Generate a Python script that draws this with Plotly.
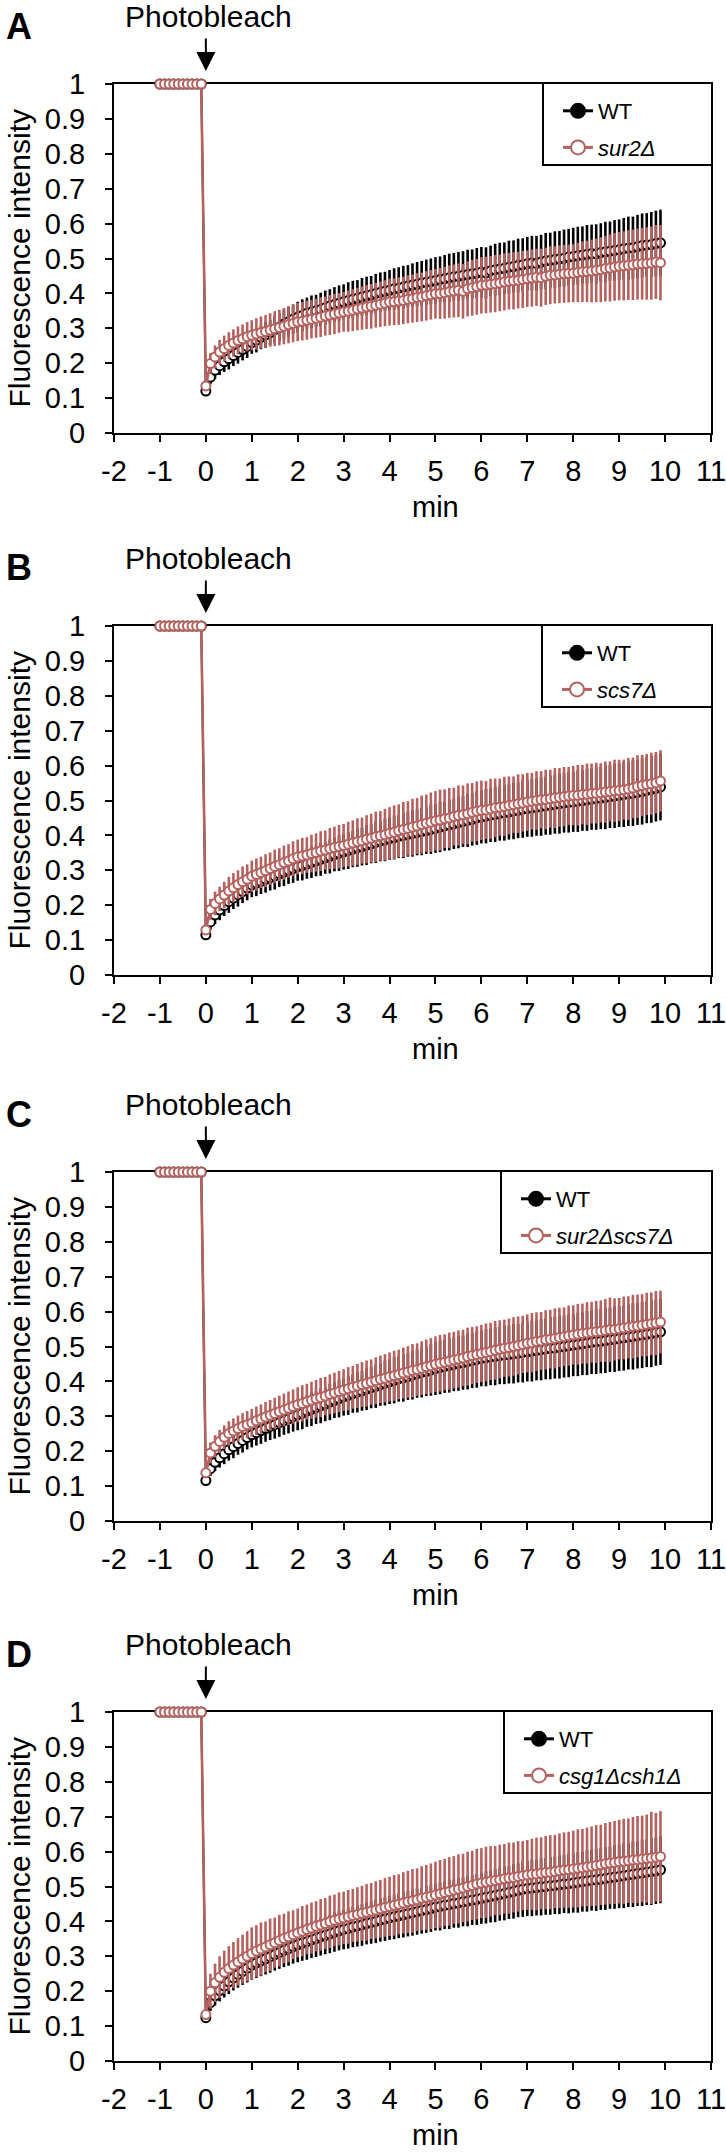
import plotly.graph_objects as go

# ---------------- data ----------------
PANEL_LABELS = ["A", "B", "C", "D"]
WT_NAME = "WT"
MUTANT_NAMES = ["sur2Δ", "scs7Δ", "sur2Δscs7Δ", "csg1Δcsh1Δ"]

X_TICK_VALS = [-2, -1, 0, 1, 2, 3, 4, 5, 6, 7, 8, 9, 10, 11]
X_TICK_TEXT = ["-2", "-1", "0", "1", "2", "3", "4", "5", "6", "7", "8", "9", "10", "11"]
Y_TICK_VALS = [0, 0.1, 0.2, 0.3, 0.4, 0.5, 0.6, 0.7, 0.8, 0.9, 1.0]
Y_TICK_TEXT = ["0", "0.1", "0.2", "0.3", "0.4", "0.5", "0.6", "0.7", "0.8", "0.9", "1"]

PRE_TIME = [-1.0, -0.9, -0.8, -0.7, -0.6, -0.5, -0.4, -0.3, -0.2, -0.1]
PRE_VALUE = [1.0, 1.0, 1.0, 1.0, 1.0, 1.0, 1.0, 1.0, 1.0, 1.0]
PRE_SD = [0.0, 0.0, 0.0, 0.0, 0.0, 0.0, 0.0, 0.0, 0.0, 0.0]

POST_TIME = [
    0.0, 0.1, 0.2, 0.3, 0.4, 0.5, 0.6, 0.7, 0.8, 0.9,
    1.0, 1.1, 1.2, 1.3, 1.4, 1.5, 1.6, 1.7, 1.8, 1.9,
    2.0, 2.1, 2.2, 2.3, 2.4, 2.5, 2.6, 2.7, 2.8, 2.9,
    3.0, 3.1, 3.2, 3.3, 3.4, 3.5, 3.6, 3.7, 3.8, 3.9,
    4.0, 4.1, 4.2, 4.3, 4.4, 4.5, 4.6, 4.7, 4.8, 4.9,
    5.0, 5.1, 5.2, 5.3, 5.4, 5.5, 5.6, 5.7, 5.8, 5.9,
    6.0, 6.1, 6.2, 6.3, 6.4, 6.5, 6.6, 6.7, 6.8, 6.9,
    7.0, 7.1, 7.2, 7.3, 7.4, 7.5, 7.6, 7.7, 7.8, 7.9,
    8.0, 8.1, 8.2, 8.3, 8.4, 8.5, 8.6, 8.7, 8.8, 8.9,
    9.0, 9.1, 9.2, 9.3, 9.4, 9.5, 9.6, 9.7, 9.8, 9.9,
]

# Panel A
WT_A = [
    0.120, 0.160, 0.180, 0.193, 0.204, 0.213, 0.222, 0.231, 0.239, 0.248,
    0.259, 0.266, 0.274, 0.281, 0.288, 0.296, 0.303, 0.312, 0.319, 0.326,
    0.332, 0.337, 0.343, 0.347, 0.350, 0.354, 0.359, 0.364, 0.368, 0.372,
    0.376, 0.380, 0.383, 0.386, 0.390, 0.393, 0.396, 0.400, 0.403, 0.406,
    0.409, 0.413, 0.415, 0.418, 0.421, 0.424, 0.426, 0.430, 0.432, 0.434,
    0.437, 0.440, 0.442, 0.445, 0.448, 0.449, 0.452, 0.454, 0.456, 0.458,
    0.461, 0.459, 0.465, 0.468, 0.470, 0.472, 0.475, 0.477, 0.480, 0.482,
    0.485, 0.487, 0.486, 0.490, 0.493, 0.495, 0.497, 0.499, 0.501, 0.504,
    0.506, 0.508, 0.510, 0.512, 0.514, 0.513, 0.517, 0.519, 0.521, 0.523,
    0.525, 0.528, 0.530, 0.531, 0.534, 0.537, 0.539, 0.540, 0.543, 0.545,
]
WT_A_SD = [
    0.010, 0.020, 0.025, 0.027, 0.029, 0.031, 0.030, 0.032, 0.031, 0.033,
    0.032, 0.035, 0.034, 0.037, 0.036, 0.039, 0.040, 0.041, 0.043, 0.042,
    0.044, 0.046, 0.045, 0.047, 0.046, 0.048, 0.049, 0.048, 0.050, 0.051,
    0.050, 0.052, 0.053, 0.052, 0.054, 0.055, 0.054, 0.056, 0.057, 0.056,
    0.058, 0.059, 0.060, 0.061, 0.060, 0.062, 0.064, 0.063, 0.065, 0.066,
    0.067, 0.066, 0.068, 0.069, 0.068, 0.070, 0.069, 0.071, 0.070, 0.072,
    0.072, 0.073, 0.072, 0.074, 0.075, 0.074, 0.076, 0.075, 0.077, 0.076,
    0.077, 0.078, 0.079, 0.078, 0.080, 0.079, 0.081, 0.080, 0.082, 0.081,
    0.082, 0.083, 0.082, 0.084, 0.083, 0.085, 0.084, 0.086, 0.085, 0.087,
    0.087, 0.088, 0.090, 0.089, 0.091, 0.092, 0.091, 0.093, 0.094, 0.095,
]
SUR2 = [
    0.135, 0.199, 0.218, 0.232, 0.242, 0.251, 0.258, 0.265, 0.270, 0.276,
    0.280, 0.284, 0.288, 0.291, 0.295, 0.299, 0.302, 0.306, 0.310, 0.314,
    0.318, 0.320, 0.323, 0.326, 0.329, 0.332, 0.335, 0.338, 0.341, 0.344,
    0.347, 0.349, 0.352, 0.355, 0.358, 0.361, 0.363, 0.366, 0.369, 0.372,
    0.375, 0.376, 0.378, 0.380, 0.383, 0.385, 0.388, 0.390, 0.393, 0.396,
    0.399, 0.400, 0.402, 0.405, 0.407, 0.409, 0.406, 0.413, 0.416, 0.419,
    0.423, 0.424, 0.426, 0.428, 0.430, 0.433, 0.435, 0.436, 0.438, 0.440,
    0.442, 0.444, 0.446, 0.445, 0.449, 0.452, 0.453, 0.455, 0.456, 0.457,
    0.458, 0.460, 0.462, 0.463, 0.464, 0.466, 0.468, 0.471, 0.473, 0.476,
    0.478, 0.479, 0.481, 0.482, 0.484, 0.485, 0.486, 0.487, 0.490, 0.488,
]
SUR2_SD = [
    0.010, 0.030, 0.033, 0.035, 0.037, 0.038, 0.039, 0.040, 0.041, 0.042,
    0.043, 0.045, 0.046, 0.047, 0.048, 0.050, 0.051, 0.052, 0.053, 0.054,
    0.055, 0.055, 0.056, 0.055, 0.056, 0.057, 0.056, 0.057, 0.058, 0.057,
    0.057, 0.059, 0.060, 0.061, 0.062, 0.063, 0.064, 0.064, 0.065, 0.066,
    0.067, 0.067, 0.068, 0.068, 0.069, 0.069, 0.070, 0.070, 0.071, 0.071,
    0.071, 0.073, 0.074, 0.075, 0.076, 0.077, 0.078, 0.079, 0.080, 0.080,
    0.081, 0.081, 0.081, 0.082, 0.081, 0.082, 0.081, 0.082, 0.081, 0.082,
    0.081, 0.082, 0.082, 0.083, 0.082, 0.083, 0.082, 0.083, 0.083, 0.083,
    0.083, 0.085, 0.087, 0.088, 0.090, 0.091, 0.093, 0.094, 0.096, 0.097,
    0.098, 0.099, 0.100, 0.101, 0.102, 0.103, 0.104, 0.105, 0.106, 0.108,
]

# Panel B
WT_B = [
    0.115, 0.152, 0.172, 0.186, 0.199, 0.210, 0.220, 0.230, 0.239, 0.249,
    0.258, 0.263, 0.268, 0.274, 0.279, 0.284, 0.290, 0.295, 0.300, 0.305,
    0.310, 0.314, 0.318, 0.323, 0.327, 0.331, 0.336, 0.340, 0.345, 0.349,
    0.353, 0.357, 0.361, 0.365, 0.368, 0.372, 0.376, 0.380, 0.384, 0.387,
    0.391, 0.394, 0.397, 0.400, 0.403, 0.406, 0.409, 0.411, 0.414, 0.417,
    0.420, 0.424, 0.427, 0.430, 0.433, 0.437, 0.440, 0.443, 0.446, 0.450,
    0.453, 0.455, 0.458, 0.460, 0.463, 0.465, 0.467, 0.470, 0.472, 0.475,
    0.477, 0.479, 0.481, 0.483, 0.485, 0.487, 0.489, 0.491, 0.493, 0.495,
    0.496, 0.498, 0.500, 0.502, 0.504, 0.506, 0.507, 0.509, 0.511, 0.513,
    0.515, 0.517, 0.519, 0.521, 0.523, 0.526, 0.529, 0.532, 0.535, 0.539,
]
WT_B_SD = [
    0.010, 0.022, 0.026, 0.029, 0.030, 0.032, 0.031, 0.034, 0.033, 0.035,
    0.035, 0.037, 0.036, 0.038, 0.037, 0.039, 0.038, 0.040, 0.039, 0.041,
    0.040, 0.043, 0.042, 0.045, 0.044, 0.047, 0.046, 0.049, 0.048, 0.051,
    0.051, 0.053, 0.052, 0.055, 0.054, 0.057, 0.056, 0.059, 0.058, 0.061,
    0.061, 0.063, 0.062, 0.065, 0.064, 0.067, 0.066, 0.068, 0.067, 0.070,
    0.070, 0.072, 0.071, 0.073, 0.072, 0.074, 0.073, 0.076, 0.075, 0.077,
    0.076, 0.078, 0.077, 0.079, 0.078, 0.080, 0.079, 0.081, 0.080, 0.082,
    0.081, 0.083, 0.082, 0.084, 0.083, 0.085, 0.084, 0.086, 0.085, 0.087,
    0.086, 0.088, 0.087, 0.089, 0.088, 0.090, 0.089, 0.091, 0.090, 0.092,
    0.091, 0.093, 0.092, 0.094, 0.093, 0.095, 0.094, 0.096, 0.095, 0.096,
]
SCS7 = [
    0.129, 0.188, 0.205, 0.218, 0.229, 0.241, 0.250, 0.259, 0.267, 0.274,
    0.283, 0.288, 0.294, 0.299, 0.305, 0.311, 0.316, 0.322, 0.327, 0.333,
    0.338, 0.341, 0.344, 0.348, 0.351, 0.355, 0.358, 0.362, 0.365, 0.368,
    0.371, 0.375, 0.378, 0.382, 0.385, 0.389, 0.392, 0.396, 0.399, 0.402,
    0.406, 0.409, 0.413, 0.417, 0.420, 0.424, 0.427, 0.431, 0.435, 0.438,
    0.442, 0.444, 0.448, 0.450, 0.454, 0.457, 0.459, 0.462, 0.466, 0.469,
    0.472, 0.473, 0.476, 0.479, 0.481, 0.483, 0.486, 0.488, 0.491, 0.493,
    0.496, 0.498, 0.500, 0.502, 0.503, 0.505, 0.507, 0.509, 0.511, 0.513,
    0.514, 0.515, 0.517, 0.518, 0.520, 0.521, 0.522, 0.524, 0.526, 0.528,
    0.529, 0.531, 0.533, 0.536, 0.540, 0.543, 0.546, 0.548, 0.551, 0.556,
]
SCS7_SD = [
    0.010, 0.030, 0.034, 0.035, 0.038, 0.040, 0.042, 0.041, 0.044, 0.043,
    0.045, 0.046, 0.045, 0.047, 0.046, 0.048, 0.047, 0.049, 0.048, 0.050,
    0.050, 0.052, 0.051, 0.054, 0.055, 0.057, 0.056, 0.059, 0.060, 0.062,
    0.062, 0.064, 0.065, 0.067, 0.066, 0.069, 0.070, 0.072, 0.071, 0.074,
    0.075, 0.077, 0.076, 0.079, 0.078, 0.081, 0.080, 0.083, 0.082, 0.085,
    0.085, 0.087, 0.084, 0.086, 0.083, 0.086, 0.084, 0.087, 0.084, 0.086,
    0.085, 0.083, 0.086, 0.084, 0.082, 0.085, 0.083, 0.081, 0.084, 0.082,
    0.083, 0.081, 0.084, 0.082, 0.085, 0.083, 0.086, 0.084, 0.085, 0.083,
    0.085, 0.087, 0.085, 0.088, 0.086, 0.087, 0.085, 0.088, 0.086, 0.089,
    0.088, 0.086, 0.089, 0.087, 0.090, 0.088, 0.087, 0.089, 0.088, 0.088,
]

# Panel C
WT_C = [
    0.116, 0.150, 0.168, 0.181, 0.193, 0.204, 0.213, 0.222, 0.231, 0.239,
    0.247, 0.253, 0.259, 0.265, 0.271, 0.276, 0.282, 0.288, 0.293, 0.299,
    0.304, 0.309, 0.315, 0.320, 0.325, 0.330, 0.335, 0.341, 0.346, 0.351,
    0.356, 0.360, 0.365, 0.369, 0.373, 0.378, 0.382, 0.386, 0.391, 0.395,
    0.399, 0.403, 0.407, 0.410, 0.414, 0.418, 0.422, 0.426, 0.429, 0.433,
    0.437, 0.440, 0.443, 0.446, 0.449, 0.452, 0.454, 0.457, 0.460, 0.463,
    0.466, 0.468, 0.470, 0.472, 0.474, 0.476, 0.477, 0.479, 0.481, 0.483,
    0.485, 0.487, 0.489, 0.491, 0.493, 0.495, 0.496, 0.498, 0.500, 0.502,
    0.504, 0.506, 0.508, 0.510, 0.512, 0.514, 0.515, 0.517, 0.519, 0.521,
    0.523, 0.525, 0.527, 0.529, 0.531, 0.533, 0.535, 0.537, 0.540, 0.542,
]
WT_C_SD = [
    0.010, 0.021, 0.025, 0.028, 0.030, 0.031, 0.033, 0.032, 0.035, 0.034,
    0.036, 0.037, 0.038, 0.038, 0.039, 0.040, 0.041, 0.041, 0.042, 0.043,
    0.044, 0.046, 0.045, 0.048, 0.047, 0.050, 0.049, 0.052, 0.051, 0.054,
    0.054, 0.056, 0.055, 0.058, 0.057, 0.060, 0.059, 0.062, 0.061, 0.064,
    0.064, 0.066, 0.065, 0.068, 0.067, 0.070, 0.069, 0.072, 0.071, 0.074,
    0.076, 0.077, 0.076, 0.078, 0.077, 0.079, 0.078, 0.080, 0.079, 0.081,
    0.080, 0.082, 0.081, 0.083, 0.082, 0.084, 0.083, 0.085, 0.084, 0.086,
    0.085, 0.087, 0.086, 0.088, 0.087, 0.089, 0.088, 0.090, 0.089, 0.090,
    0.089, 0.091, 0.090, 0.092, 0.091, 0.093, 0.092, 0.093, 0.092, 0.094,
    0.093, 0.094, 0.093, 0.095, 0.094, 0.095, 0.094, 0.096, 0.095, 0.095,
]
SUR2_SCS7 = [
    0.138, 0.195, 0.214, 0.228, 0.240, 0.251, 0.258, 0.265, 0.271, 0.276,
    0.281, 0.287, 0.292, 0.298, 0.303, 0.308, 0.313, 0.318, 0.323, 0.328,
    0.333, 0.337, 0.342, 0.346, 0.350, 0.354, 0.358, 0.363, 0.367, 0.371,
    0.375, 0.379, 0.383, 0.387, 0.391, 0.394, 0.398, 0.402, 0.406, 0.409,
    0.413, 0.416, 0.420, 0.424, 0.427, 0.431, 0.434, 0.438, 0.442, 0.445,
    0.449, 0.452, 0.455, 0.458, 0.461, 0.464, 0.467, 0.471, 0.474, 0.477,
    0.480, 0.483, 0.486, 0.489, 0.492, 0.495, 0.497, 0.500, 0.503, 0.506,
    0.509, 0.511, 0.514, 0.516, 0.519, 0.521, 0.523, 0.526, 0.528, 0.531,
    0.533, 0.535, 0.537, 0.539, 0.541, 0.542, 0.544, 0.546, 0.548, 0.549,
    0.551, 0.553, 0.555, 0.557, 0.559, 0.561, 0.563, 0.565, 0.567, 0.570,
]
SUR2_SCS7_SD = [
    0.010, 0.030, 0.032, 0.033, 0.034, 0.035, 0.036, 0.037, 0.038, 0.039,
    0.040, 0.041, 0.042, 0.043, 0.044, 0.045, 0.046, 0.047, 0.048, 0.049,
    0.050, 0.052, 0.051, 0.053, 0.054, 0.056, 0.055, 0.057, 0.058, 0.059,
    0.060, 0.062, 0.061, 0.063, 0.064, 0.066, 0.065, 0.067, 0.068, 0.069,
    0.070, 0.072, 0.071, 0.073, 0.074, 0.076, 0.075, 0.077, 0.078, 0.079,
    0.080, 0.081, 0.080, 0.082, 0.081, 0.082, 0.081, 0.083, 0.082, 0.081,
    0.082, 0.083, 0.082, 0.084, 0.083, 0.082, 0.083, 0.084, 0.083, 0.082,
    0.083, 0.085, 0.084, 0.083, 0.085, 0.084, 0.086, 0.085, 0.084, 0.086,
    0.085, 0.087, 0.086, 0.088, 0.087, 0.089, 0.088, 0.090, 0.092, 0.089,
    0.088, 0.090, 0.089, 0.091, 0.090, 0.089, 0.091, 0.090, 0.092, 0.090,
]

# Panel D
WT_D = [
    0.124, 0.167, 0.187, 0.202, 0.215, 0.227, 0.238, 0.248, 0.257, 0.266,
    0.275, 0.281, 0.287, 0.293, 0.299, 0.305, 0.311, 0.317, 0.322, 0.328,
    0.333, 0.338, 0.342, 0.347, 0.351, 0.356, 0.360, 0.364, 0.369, 0.373,
    0.377, 0.380, 0.384, 0.387, 0.390, 0.394, 0.397, 0.400, 0.404, 0.407,
    0.410, 0.413, 0.416, 0.419, 0.422, 0.425, 0.428, 0.431, 0.434, 0.437,
    0.441, 0.443, 0.446, 0.448, 0.451, 0.453, 0.456, 0.458, 0.461, 0.463,
    0.466, 0.469, 0.471, 0.474, 0.477, 0.480, 0.483, 0.486, 0.489, 0.492,
    0.494, 0.496, 0.497, 0.499, 0.500, 0.502, 0.503, 0.505, 0.507, 0.508,
    0.510, 0.512, 0.514, 0.516, 0.518, 0.519, 0.521, 0.523, 0.525, 0.527,
    0.529, 0.531, 0.533, 0.535, 0.537, 0.539, 0.541, 0.543, 0.545, 0.548,
]
WT_D_SD = [
    0.012, 0.024, 0.028, 0.031, 0.033, 0.035, 0.036, 0.038, 0.039, 0.041,
    0.042, 0.043, 0.044, 0.045, 0.046, 0.046, 0.047, 0.048, 0.049, 0.049,
    0.050, 0.051, 0.052, 0.052, 0.053, 0.054, 0.054, 0.055, 0.056, 0.056,
    0.057, 0.058, 0.058, 0.059, 0.060, 0.060, 0.061, 0.062, 0.062, 0.063,
    0.063, 0.064, 0.064, 0.065, 0.065, 0.066, 0.066, 0.066, 0.067, 0.067,
    0.067, 0.069, 0.068, 0.070, 0.069, 0.071, 0.070, 0.072, 0.071, 0.073,
    0.073, 0.075, 0.074, 0.076, 0.075, 0.077, 0.076, 0.078, 0.077, 0.079,
    0.079, 0.081, 0.080, 0.082, 0.081, 0.083, 0.082, 0.084, 0.083, 0.085,
    0.085, 0.087, 0.086, 0.088, 0.087, 0.089, 0.088, 0.090, 0.089, 0.091,
    0.091, 0.093, 0.092, 0.094, 0.093, 0.095, 0.094, 0.096, 0.095, 0.096,
]
CSG1_CSH1 = [
    0.133, 0.200, 0.224, 0.240, 0.254, 0.265, 0.275, 0.284, 0.292, 0.300,
    0.308, 0.315, 0.321, 0.327, 0.333, 0.339, 0.345, 0.351, 0.356, 0.362,
    0.367, 0.372, 0.377, 0.381, 0.386, 0.390, 0.394, 0.399, 0.403, 0.407,
    0.410, 0.413, 0.417, 0.420, 0.423, 0.426, 0.430, 0.433, 0.436, 0.440,
    0.443, 0.446, 0.449, 0.453, 0.456, 0.459, 0.462, 0.466, 0.469, 0.472,
    0.476, 0.479, 0.483, 0.486, 0.490, 0.493, 0.496, 0.500, 0.503, 0.507,
    0.510, 0.512, 0.515, 0.517, 0.519, 0.522, 0.524, 0.526, 0.529, 0.531,
    0.533, 0.535, 0.536, 0.538, 0.540, 0.541, 0.543, 0.545, 0.547, 0.548,
    0.550, 0.552, 0.554, 0.556, 0.558, 0.560, 0.562, 0.565, 0.567, 0.569,
    0.571, 0.572, 0.574, 0.576, 0.577, 0.579, 0.580, 0.582, 0.584, 0.586,
]
CSG1_CSH1_SD = [
    0.010, 0.050, 0.055, 0.060, 0.062, 0.064, 0.066, 0.068, 0.070, 0.072,
    0.075, 0.074, 0.076, 0.073, 0.075, 0.072, 0.074, 0.071, 0.073, 0.070,
    0.070, 0.072, 0.071, 0.073, 0.072, 0.074, 0.073, 0.075, 0.074, 0.076,
    0.075, 0.077, 0.076, 0.078, 0.079, 0.081, 0.080, 0.082, 0.083, 0.084,
    0.085, 0.087, 0.086, 0.088, 0.089, 0.091, 0.090, 0.092, 0.093, 0.094,
    0.095, 0.097, 0.096, 0.098, 0.097, 0.099, 0.098, 0.100, 0.099, 0.101,
    0.100, 0.102, 0.101, 0.099, 0.101, 0.100, 0.102, 0.100, 0.101, 0.099,
    0.100, 0.102, 0.104, 0.103, 0.105, 0.106, 0.105, 0.107, 0.108, 0.109,
    0.110, 0.112, 0.111, 0.113, 0.114, 0.116, 0.115, 0.117, 0.118, 0.119,
    0.120, 0.122, 0.121, 0.123, 0.125, 0.124, 0.126, 0.132, 0.127, 0.130,
]

WT_MEANS = [WT_A, WT_B, WT_C, WT_D]
WT_SDS = [WT_A_SD, WT_B_SD, WT_C_SD, WT_D_SD]
MUT_MEANS = [SUR2, SCS7, SUR2_SCS7, CSG1_CSH1]
MUT_SDS = [SUR2_SD, SCS7_SD, SUR2_SCS7_SD, CSG1_CSH1_SD]

# ---------------- layout / styling ----------------
W, H = 726, 2156
FONT = "Liberation Sans, Arial, Helvetica, sans-serif"
RED = "#B5615E"
BLACK = "#000000"

PLOT_LEFT, PLOT_RIGHT = 114, 711
PLOT_TOPS = [84, 626, 1172, 1712]
PLOT_H = 349
LEGEND_LEFTS = [543, 542, 501, 504]
LEGEND_RIGHT = 712
LEGEND_H = 82


def px_x(p):
    return p / W


def px_y(p):
    return 1 - p / H


fig = go.Figure()
layout = dict(
    width=W, height=H, autosize=False,
    margin=dict(l=0, r=0, t=0, b=0, pad=0),
    paper_bgcolor="white", plot_bgcolor="white",
    font=dict(family=FONT, color="black", size=29),
    showlegend=True,
    annotations=[], shapes=[],
)

x_all = PRE_TIME + POST_TIME

for i in range(4):
    n = "" if i == 0 else str(i + 1)
    xa, ya = "x" + n, "y" + n
    top = PLOT_TOPS[i]
    bottom = top + PLOT_H
    leg = "legend" if i == 0 else "legend" + str(i + 1)

    wt_y = PRE_VALUE + WT_MEANS[i]
    wt_e = PRE_SD + WT_SDS[i]
    mu_y = PRE_VALUE + MUT_MEANS[i]
    mu_e = PRE_SD + MUT_SDS[i]

    # WT error bars
    fig.add_trace(go.Scatter(
        x=x_all, y=wt_y, mode="markers", xaxis=xa, yaxis=ya,
        marker=dict(size=1, color="rgba(0,0,0,0)"),
        error_y=dict(type="data", array=wt_e, visible=True, color=BLACK, thickness=2.6, width=0),
        showlegend=False, hoverinfo="skip", cliponaxis=False))
    # WT line + markers
    fig.add_trace(go.Scatter(
        x=x_all, y=wt_y, mode="lines+markers", xaxis=xa, yaxis=ya,
        line=dict(color=BLACK, width=2),
        marker=dict(symbol="circle", size=9, color="white", line=dict(color=BLACK, width=2)),
        showlegend=False, cliponaxis=False))
    # mutant error bars
    fig.add_trace(go.Scatter(
        x=x_all, y=mu_y, mode="markers", xaxis=xa, yaxis=ya,
        marker=dict(size=1, color="rgba(0,0,0,0)"),
        error_y=dict(type="data", array=mu_e, visible=True, color=RED, thickness=2.6, width=0),
        showlegend=False, hoverinfo="skip", cliponaxis=False))
    # mutant line + markers
    fig.add_trace(go.Scatter(
        x=x_all, y=mu_y, mode="lines+markers", xaxis=xa, yaxis=ya,
        line=dict(color=RED, width=2.6),
        marker=dict(symbol="circle", size=9, color="white", line=dict(color=RED, width=2)),
        showlegend=False, cliponaxis=False))
    # legend entries
    fig.add_trace(go.Scatter(
        x=[None], y=[None], mode="lines+markers", xaxis=xa, yaxis=ya,
        name=WT_NAME, legend=leg, legendgroup="wt" + n,
        line=dict(color=BLACK, width=3),
        marker=dict(symbol="circle", size=14, color=BLACK, line=dict(color=BLACK, width=2))))
    fig.add_trace(go.Scatter(
        x=[None], y=[None], mode="lines+markers", xaxis=xa, yaxis=ya,
        name="<i>" + MUTANT_NAMES[i] + "</i>", legend=leg, legendgroup="mu" + n,
        line=dict(color=RED, width=3),
        marker=dict(symbol="circle", size=14, color="white", line=dict(color=RED, width=2))))

    axis_common = dict(
        showline=True, linecolor=BLACK, linewidth=2, mirror=True,
        ticks="outside", ticklen=7, tickwidth=2, tickcolor=BLACK,
        showgrid=False, zeroline=False, layer="below traces",
        ticklabeloverflow="allow", automargin=False,
        tickfont=dict(family=FONT, size=29, color="black"),
    )
    layout["xaxis" + n] = dict(
        axis_common, domain=[px_x(PLOT_LEFT), px_x(PLOT_RIGHT)], range=[-2, 11],
        tickmode="array", tickvals=X_TICK_VALS, ticktext=X_TICK_TEXT,
        anchor=ya, ticklabelstandoff=4)
    layout["yaxis" + n] = dict(
        axis_common, domain=[px_y(bottom), px_y(top)], range=[0, 1],
        tickmode="array", tickvals=Y_TICK_VALS, ticktext=Y_TICK_TEXT,
        anchor=xa, ticklabelstandoff=14)

    # legend box + legend
    layout["shapes"].append(dict(
        type="rect", xref="paper", yref="paper",
        x0=px_x(LEGEND_LEFTS[i]), x1=px_x(LEGEND_RIGHT),
        y0=px_y(top - 1 + LEGEND_H), y1=px_y(top - 1),
        line=dict(color=BLACK, width=2), fillcolor="white", layer="above"))
    layout[leg] = dict(
        x=px_x(LEGEND_LEFTS[i] + 15), xanchor="left",
        y=px_y(top + 6), yanchor="top",
        bgcolor="rgba(0,0,0,0)", borderwidth=0,
        font=dict(family=FONT, size=22, color="black"),
        tracegroupgap=5, traceorder="grouped")

    # panel letter
    layout["annotations"].append(dict(
        text="<b>" + PANEL_LABELS[i] + "</b>", xref="paper", yref="paper",
        x=px_x(4), y=px_y(top - 58), xanchor="left", yanchor="middle",
        showarrow=False, font=dict(family=FONT, size=36, color="black")))
    # Photobleach label
    layout["annotations"].append(dict(
        text="Photobleach", xref="paper", yref="paper",
        x=px_x(208), y=px_y(top - 68), xanchor="center", yanchor="middle",
        showarrow=False, font=dict(family=FONT, size=30, color="black")))
    # arrow
    layout["annotations"].append(dict(
        text="", xref=xa, yref="paper", x=0, y=px_y(top - 13),
        showarrow=True, ax=0, ay=-34, arrowhead=2, arrowsize=1.9, arrowwidth=2,
        arrowcolor="black"))
    # y title
    layout["annotations"].append(dict(
        text="Fluorescence intensity", xref="paper", yref="paper",
        x=px_x(19), y=px_y(top + PLOT_H / 2), xanchor="center", yanchor="middle",
        textangle=-90, showarrow=False, font=dict(family=FONT, size=30, color="black")))
    # x title
    layout["annotations"].append(dict(
        text="min", xref="paper", yref="paper",
        x=px_x(435), y=px_y(bottom + 74), xanchor="center", yanchor="middle",
        showarrow=False, font=dict(family=FONT, size=29, color="black")))

fig.update_layout(**layout)
fig.write_html(
    "out.html",
    config={"displayModeBar": False},
    post_script="document.body.style.margin='0';document.body.style.overflow='hidden';",
)
